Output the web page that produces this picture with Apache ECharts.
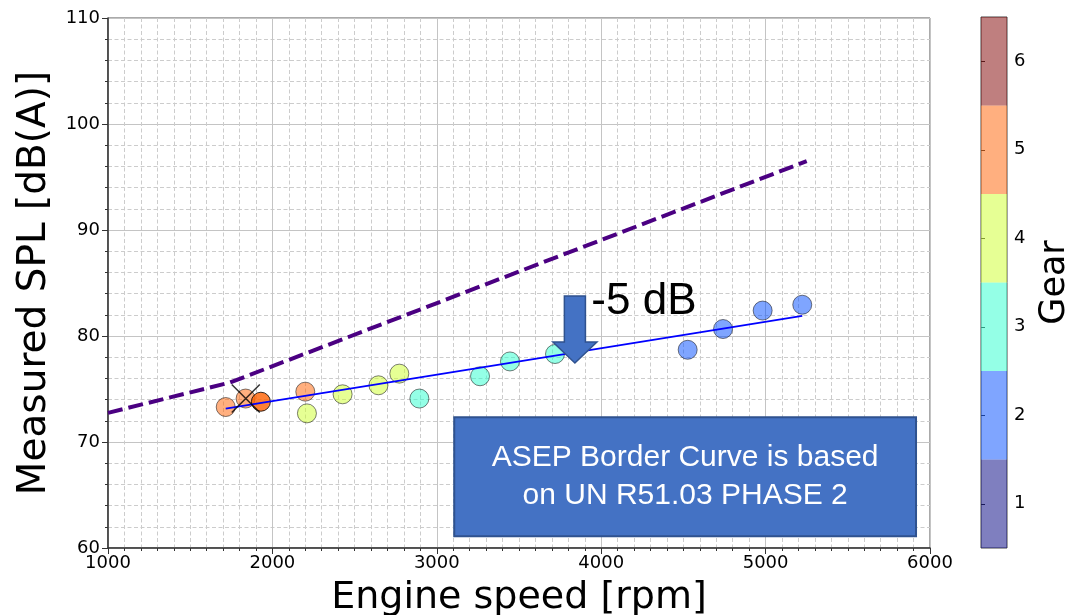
<!DOCTYPE html>
<html>
	<head>
		<meta charset="utf-8">
		<title>ASEP</title>
		<style type="text/css">
			html, body { margin: 0; padding: 0; background: #fff; }
			#chart { width: 1073px; height: 615px; }
		</style>
	</head>
	<body>
		<div id="chart"></div>
		<script src="https://cdn.jsdelivr.net/npm/echarts@6/dist/echarts.min.js"></script>
		<script>
			// 测量点
			var speed = [1716, 1837, 2200, 2210, 2427, 2645, 2772, 2894, 3263, 3445, 3719, 4526, 4741, 4982, 5223];
			var spl = [73.3, 74.1, 74.75, 72.7, 74.5, 75.35, 76.45, 74.1, 76.2, 77.6, 78.3, 78.7, 80.66, 82.4, 82.95];
			var gear = [5, 5, 5, 4, 4, 4, 4, 3, 3, 3, 3, 2, 2, 2, 2];

			// 参考点 / 剔除点
			var refPoint = [1930, 73.8];
			var refGear = 5;
			var excluded = [1838, 74.1];

			// 拟合线、ASEP 边界曲线
			var trendX = [1716, 5223];
			var trendY = [73.14, 81.9];
			var borderX = [1000, 1740, 5250];
			var borderY = [72.75, 75.6, 96.5];

			// 色标
			var gearLabels = ['1', '2', '3', '4', '5', '6'];
			var gearColors = ['rgb(0,0,127)', 'rgb(0,76,255)', 'rgb(41,255,206)', 'rgb(206,255,41)', 'rgb(255,96,0)', 'rgb(127,0,0)'];
			var xTicks = [1000, 6000, 1000];
			var yTicks = [60, 110, 10];

			var font = 'DejaVu Sans';

			var pts = speed.map(function (s, i) {
				return {
					value: [s, spl[i]],
					itemStyle: { color: gearColors[gear[i] - 1] }
				};
			});

			var myChart = echarts.init(document.getElementById('chart'));

			var option = {
				animation: false,
				grid: [{
					left: 108, right: 143, top: 18, bottom: 67,
					outerBoundsMode: 'none',
					show: true, borderColor: '#555', borderWidth: 1
				}, {
					left: 981, width: 26, top: 17, bottom: 67,
					outerBoundsMode: 'none',
					show: true, borderColor: '#444', borderWidth: 1
				}],
				xAxis: [{
					gridIndex: 0, type: 'value',
					min: xTicks[0], max: xTicks[1], interval: xTicks[2],
					name: 'Engine speed [rpm]', nameLocation: 'middle', nameGap: 31,
					nameTextStyle: { fontFamily: font, fontSize: 38, color: '#000' },
					axisLine: { lineStyle: { color: '#333', width: 1.5 } },
					axisTick: { show: true, length: 6, lineStyle: { color: '#333' } },
					minorTick: { show: true, splitNumber: 10, length: 3, lineStyle: { color: '#333' } },
					axisLabel: {
						fontFamily: font, fontSize: 18, color: '#000', margin: 6,
						formatter: function (v) { return String(v); }
					},
					splitLine: { show: true, lineStyle: { color: '#c4c4c4', width: 1 } },
					minorSplitLine: { show: true, lineStyle: { color: '#cccccc', type: [4, 2.5] } }
				}, {
					gridIndex: 1, type: 'value', min: 0, max: 1,
					show: false
				}],
				yAxis: [{
					gridIndex: 0, type: 'value',
					min: yTicks[0], max: yTicks[1], interval: yTicks[2],
					name: 'Measured SPL [dB(A)]', nameLocation: 'middle', nameGap: 46, nameRotate: 90,
					nameTextStyle: { fontFamily: font, fontSize: 39, color: '#000' },
					axisLine: { show: true, lineStyle: { color: '#333', width: 1.5 } },
					axisTick: { show: true, length: 6, lineStyle: { color: '#333' } },
					minorTick: { show: true, splitNumber: 5, length: 3, lineStyle: { color: '#333' } },
					axisLabel: { fontFamily: font, fontSize: 18, color: '#000', margin: 8 },
					splitLine: { show: true, lineStyle: { color: '#c4c4c4', width: 1 } },
					minorSplitLine: { show: true, lineStyle: { color: '#cccccc', type: [4, 2.5] } }
				}, {
					gridIndex: 1, type: 'category', data: gearLabels,
					position: 'right',
					name: 'Gear', nameLocation: 'middle', nameGap: 30, nameRotate: 90,
					nameTextStyle: { fontFamily: font, fontSize: 35, color: '#000', verticalAlign: 'top' },
					axisLine: { show: false },
					axisTick: { show: true, alignWithLabel: true, length: 4, lineStyle: { color: '#333' } },
					axisLabel: { fontFamily: font, fontSize: 18, color: '#000', margin: 7 },
					splitLine: { show: false }
				}],
				series: [{
					type: 'line', xAxisIndex: 0, yAxisIndex: 0, z: 2,
					data: borderX.map(function (x, i) { return [x, borderY[i]]; }),
					symbol: 'none',
					lineStyle: { color: '#4b0082', width: 4, type: [15, 6] }
				}, {
					type: 'scatter', xAxisIndex: 0, yAxisIndex: 0, z: 3,
					data: pts, symbolSize: 19,
					itemStyle: { opacity: 0.5, borderColor: '#000', borderWidth: 1 }
				}, {
					type: 'scatter', xAxisIndex: 0, yAxisIndex: 0, z: 4,
					data: [refPoint], symbolSize: 19,
					itemStyle: { color: gearColors[refGear - 1], borderColor: '#000', borderWidth: 1 }
				}, {
					type: 'line', xAxisIndex: 0, yAxisIndex: 0, z: 5,
					data: trendX.map(function (x, i) { return [x, trendY[i]]; }),
					symbol: 'none',
					lineStyle: { color: '#0000ff', width: 1.8 }
				}, {
					type: 'scatter', xAxisIndex: 0, yAxisIndex: 0, z: 6,
					data: [excluded], symbolSize: 28,
					symbol: 'path://M0,0L10,10M10,0L0,10',
					itemStyle: { color: 'none', borderColor: '#000', borderWidth: 1.5 }
				}, {
					type: 'bar', xAxisIndex: 1, yAxisIndex: 1,
					barWidth: '100%', silent: true,
					data: gearLabels.map(function (g, i) {
						return { value: 1, itemStyle: { color: gearColors[i], opacity: 0.5 } };
					})
				}]
			};

			myChart.setOption(option);

			// 注释：箭头、文字、文本框（以数据坐标定位）
			var box = [3106, 72.33, 5915, 61.1];
			var arrow = { x: 3840, top: 83.77, neck: 79.43, tip: 77.45, shaft: 64, head: 134 };
			var label = [3940, 83.2];

			function px(x, y) {
				return myChart.convertToPixel({ gridIndex: 0 }, [x, y]);
			}

			var b1 = px(box[0], box[1]), b2 = px(box[2], box[3]);
			var a = [
				px(arrow.x - arrow.shaft, arrow.top), px(arrow.x + arrow.shaft, arrow.top),
				px(arrow.x + arrow.shaft, arrow.neck), px(arrow.x + arrow.head, arrow.neck),
				px(arrow.x, arrow.tip),
				px(arrow.x - arrow.head, arrow.neck), px(arrow.x - arrow.shaft, arrow.neck)
			];
			var lp = px(label[0], label[1]);

			myChart.setOption({
				graphic: [{
					type: 'rect', z: 100,
					shape: { x: b1[0], y: b1[1], width: b2[0] - b1[0], height: b2[1] - b1[1] },
					style: { fill: '#4472c4', stroke: '#2f528f', lineWidth: 2 }
				}, {
					type: 'text', z: 101,
					x: (b1[0] + b2[0]) / 2, y: (b1[1] + b2[1]) / 2,
					style: {
						text: 'ASEP Border Curve is based\non UN R51.03 PHASE 2',
						fill: '#fff', fontFamily: 'Liberation Sans', fontSize: 30,
						lineHeight: 38, align: 'center', verticalAlign: 'middle'
					}
				}, {
					type: 'polygon', z: 100,
					shape: { points: a },
					style: { fill: '#4472c4', stroke: '#2f528f', lineWidth: 1.5 }
				}, {
					type: 'text', z: 101,
					x: lp[0], y: lp[1],
					style: {
						text: '-5 dB', fill: '#000', fontFamily: 'Liberation Sans', fontSize: 44,
						align: 'left', verticalAlign: 'middle'
					}
				}]
			});
		</script>
	</body>
</html>
